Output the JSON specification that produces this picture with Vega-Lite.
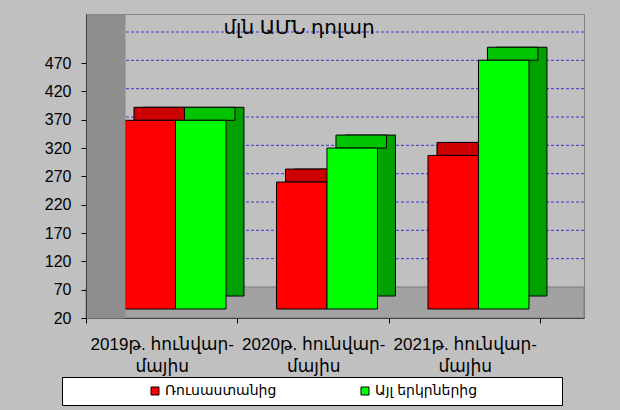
{
  "$schema": "https://vega.github.io/schema/vega-lite/v6.json",
  "width": 498,
  "height": 304,
  "autosize": "none",
  "padding": {"left": 86, "top": 14, "right": 36, "bottom": 92},
  "background": "#C0C0C0",
  "title": {
    "text": "մլն ԱՄՆ դոլար",
    "anchor": "middle",
    "dx": -36,
    "offset": -34,
    "baseline": "middle",
    "fontSize": 20,
    "fontWeight": "normal",
    "color": "#000000"
  },
  "config": {
    "font": "Liberation Sans, DejaVu Sans, sans-serif",
    "view": {"stroke": "#808080", "fill": "#C0C0C0"}
  },
  "data": {
    "values": [
      {"period": "2019թ. հունվար-մայիս", "series": "Ռուսաստանից", "value": 353},
      {"period": "2019թ. հունվար-մայիս", "series": "Այլ երկրներից", "value": 353},
      {"period": "2020թ. հունվար-մայիս", "series": "Ռուսաստանից", "value": 244},
      {"period": "2020թ. հունվար-մայիս", "series": "Այլ երկրներից", "value": 304},
      {"period": "2021թ. հունվար-մայիս", "series": "Ռուսաստանից", "value": 291},
      {"period": "2021թ. հունվար-մայիս", "series": "Այլ երկրներից", "value": 459}
    ]
  },
  "resolve": {
    "scale": {"x": "independent", "xOffset": "independent"},
    "axis": {"x": "independent", "y": "independent"}
  },
  "layer": [
    {
      "data": {"values": [{"floor": "floor"}]},
      "mark": {"type": "rect", "fill": "#A2A2A2", "stroke": "#7A7A7A", "strokeWidth": 1},
      "encoding": {
        "y": {
          "datum": 20,
          "type": "quantitative",
          "scale": {"domain": [20, 556.5], "nice": false, "zero": false},
          "axis": null
        },
        "y2": {"datum": 74.7}
      }
    },
    {
      "data": {"values": [{"g": 70}, {"g": 120}, {"g": 170}, {"g": 220}, {"g": 270}, {"g": 320}, {"g": 370}, {"g": 420}, {"g": 470}]},
      "mark": {"type": "rule", "stroke": "#3838D0", "strokeWidth": 1, "strokeDash": [3, 2], "yOffset": -31},
      "encoding": {
        "y": {
          "field": "g",
          "type": "quantitative",
          "scale": {"domain": [20, 556.5], "nice": false, "zero": false},
          "axis": {
            "orient": "left",
            "offset": -19.5,
            "domainWidth": 39,
            "domainColor": "#8E8E8E",
            "ticks": false,
            "labels": false,
            "grid": false,
            "title": null,
            "zindex": 1
          }
        }
      }
    },
    {
      "mark": {"type": "bar", "stroke": "#000000", "strokeWidth": 1, "yOffset": -22, "y2Offset": -22},
      "encoding": {
        "x": {"field": "period", "type": "nominal", "sort": null, "scale": {"paddingInner": 0, "paddingOuter": 0.1436, "align": 0.149}, "axis": null},
        "xOffset": {"field": "series", "type": "nominal", "sort": ["Ռուսաստանից", "Այլ երկրներից"], "scale": {"paddingInner": 0, "paddingOuter": 0.5, "align": 1}},
        "y": {"field": "value", "type": "quantitative", "scale": {"domain": [20, 556.5], "nice": false, "zero": false}, "axis": null},
        "y2": {"datum": 20},
        "fill": {"condition": {"test": "datum.series == 'Ռուսաստանից'", "value": "#C00000"}, "value": "#00A000"}
      }
    },
    {
      "mark": {"type": "bar", "stroke": "#000000", "strokeWidth": 1, "yOffset": -22, "y2Offset": -9},
      "encoding": {
        "x": {"field": "period", "type": "nominal", "sort": null, "scale": {"paddingInner": 0, "paddingOuter": 0.1436, "align": 0}, "axis": null},
        "xOffset": {"field": "series", "type": "nominal", "sort": ["Ռուսաստանից", "Այլ երկրներից"], "scale": {"paddingInner": 0, "paddingOuter": 0.5, "align": 0.95}},
        "y": {"field": "value", "type": "quantitative", "scale": {"domain": [20, 556.5], "nice": false, "zero": false}, "axis": null},
        "y2": {"field": "value"},
        "fill": {"condition": {"test": "datum.series == 'Ռուսաստանից'", "value": "#CC0000"}, "value": "#00C400"}
      }
    },
    {
      "mark": {"type": "bar", "stroke": "#000000", "strokeWidth": 1, "yOffset": -9, "y2Offset": -9},
      "encoding": {
        "x": {
          "field": "period",
          "type": "nominal",
          "sort": null,
          "scale": {"paddingInner": 0, "paddingOuter": 0.1436, "align": 0},
          "axis": {
            "title": null,
            "labelAngle": 0,
            "tickBand": "extent",
            "tickSize": 5,
            "tickColor": "#000000",
            "domainColor": "#404040",
            "labelPadding": 13,
            "labelFontSize": 17,
            "labelColor": "#000000",
            "labelLineHeight": 22,
            "labelExpr": "[slice(datum.label, 0, indexof(datum.label, '-') + 1), slice(datum.label, indexof(datum.label, '-') + 1)]",
            "zindex": 1
          }
        },
        "xOffset": {"field": "series", "type": "nominal", "sort": ["Ռուսաստանից", "Այլ երկրներից"], "scale": {"paddingInner": 0, "paddingOuter": 0.5, "align": 0.772}},
        "y": {
          "field": "value",
          "type": "quantitative",
          "scale": {"domain": [20, 556.5], "nice": false, "zero": false},
          "axis": {
            "orient": "left",
            "values": [20, 70, 120, 170, 220, 270, 320, 370, 420, 470],
            "title": null,
            "grid": false,
            "tickSize": 5,
            "tickColor": "#000000",
            "domainColor": "#404040",
            "labelPadding": 10,
            "labelFontSize": 16,
            "labelColor": "#000000",
            "zindex": 1
          }
        },
        "y2": {"datum": 20},
        "color": {
          "field": "series",
          "type": "nominal",
          "sort": ["Ռուսաստանից", "Այլ երկրներից"],
          "scale": {"domain": ["Ռուսաստանից", "Այլ երկրներից"], "range": ["#FF0000", "#00FF00"]},
          "legend": {
            "orient": "none",
            "legendX": -24,
            "legendY": 363,
            "direction": "horizontal",
            "title": " ",
            "titleOrient": "right",
            "titlePadding": 78,
            "fillColor": "#FFFFFF",
            "strokeColor": "#000000",
            "padding": 7,
            "gridAlign": "all",
            "symbolOffset": 79,
            "columnPadding": 2,
            "labelOffset": 3,
            "symbolType": "square",
            "symbolSize": 64,
            "symbolStrokeColor": "#000000",
            "symbolStrokeWidth": 1,
            "symbolOpacity": 1,
            "labelFontSize": 14,
            "labelColor": "#000000"
          }
        }
      }
    }
  ]
}
